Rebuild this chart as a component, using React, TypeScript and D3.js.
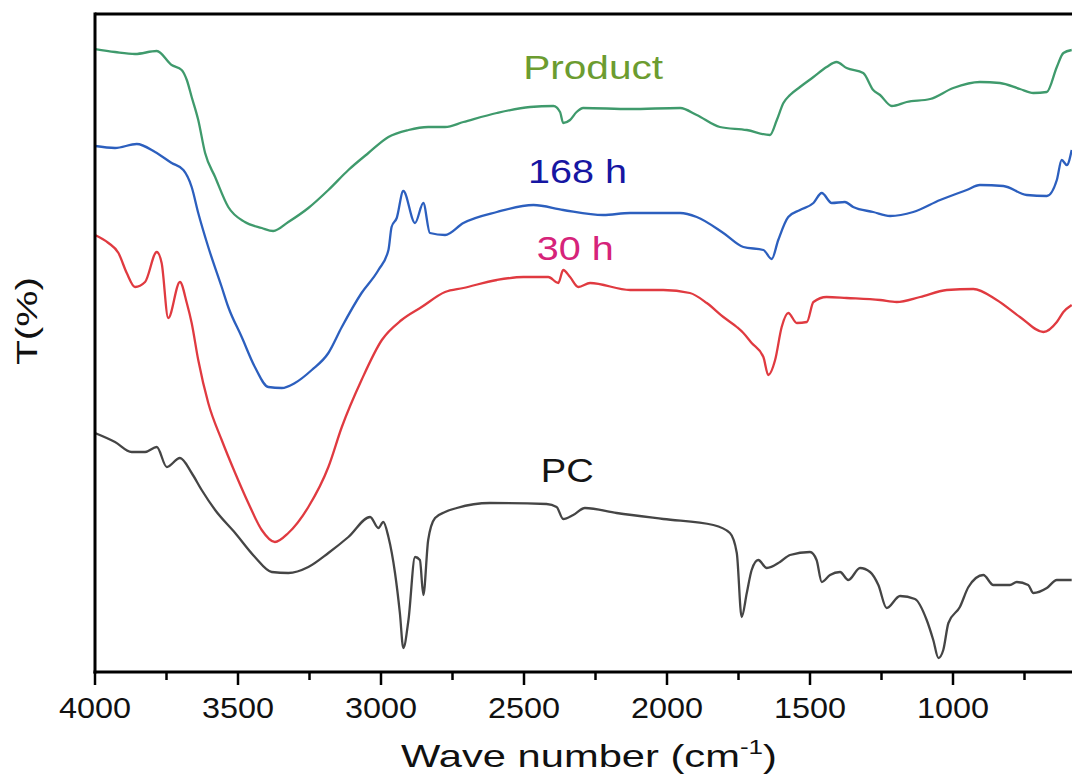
import React from "react";
import * as d3 from "d3";

// [wavenumber (cm-1), transmittance (a.u., offset stacked)]
const productData: [number, number][] = [[4000,623],[3930,620],[3860,618],[3784,621],[3732,607],[3697,602],[3679,592],[3662,575],[3639,552],[3615,519],[3580,495],[3534,465],[3476,450],[3417,444],[3377,441],[3324,450],[3254,464],[3184,482],[3114,502],[3044,519],[2974,535],[2904,542],[2835,545],[2776,545],[2712,550],[2595,559],[2479,565],[2397,566],[2374,560],[2363,549],[2339,552],[2316,560],[2293,564],[2129,563],[1954,564],[1896,557],[1815,545],[1721,542],[1640,537],[1616,552],[1593,569],[1570,577],[1535,585],[1488,595],[1442,605],[1407,610],[1372,604],[1314,599],[1279,582],[1255,577],[1214,566],[1162,570],[1080,573],[999,584],[906,590],[836,589],[766,583],[719,579],[672,580],[637,605],[614,619],[585,622]];

const h168Data: [number, number][] = [[4000,526],[3930,524],[3854,528],[3790,520],[3732,509],[3691,502],[3662,485],[3639,459],[3604,425],[3557,385],[3534,365],[3487,335],[3441,305],[3394,285],[3347,284],[3301,289],[3242,302],[3184,319],[3137,345],[3068,379],[3009,402],[2974,422],[2963,445],[2945,454],[2922,481],[2881,449],[2852,469],[2829,439],[2776,437],[2712,449],[2595,460],[2467,467],[2363,462],[2223,457],[2129,459],[1954,459],[1896,455],[1803,439],[1733,425],[1663,422],[1634,413],[1611,432],[1576,455],[1535,462],[1488,469],[1459,479],[1424,469],[1378,470],[1349,465],[1279,460],[1220,456],[1139,460],[1045,472],[952,482],[906,487],[824,486],[742,477],[672,476],[637,492],[620,512],[602,507],[585,522]];

const h30Data: [number, number][] = [[4000,437],[3953,429],[3918,419],[3889,399],[3860,385],[3825,390],[3784,420],[3767,409],[3744,354],[3703,390],[3679,369],[3662,349],[3639,312],[3604,269],[3557,232],[3510,199],[3464,169],[3417,142],[3371,130],[3324,139],[3254,165],[3184,205],[3137,245],[3068,292],[2997,332],[2928,352],[2858,365],[2776,380],[2712,384],[2595,392],[2502,395],[2415,395],[2380,389],[2363,402],[2339,395],[2310,385],[2269,389],[2129,382],[2013,382],[1920,379],[1861,369],[1803,355],[1756,345],[1733,339],[1704,329],[1663,315],[1646,297],[1622,312],[1599,345],[1576,359],[1546,349],[1511,350],[1488,370],[1442,375],[1372,374],[1255,372],[1197,370],[1115,375],[1022,382],[929,383],[847,372],[766,355],[684,340],[637,350],[614,360],[585,367]];

const pcData: [number, number][] = [[4000,239],[3930,230],[3872,220],[3825,220],[3784,225],[3749,205],[3703,214],[3662,199],[3627,182],[3580,162],[3510,139],[3441,115],[3382,100],[3324,99],[3254,105],[3184,119],[3114,135],[3038,155],[3009,144],[2992,150],[2974,135],[2951,99],[2934,59],[2922,24],[2904,52],[2881,115],[2864,112],[2852,77],[2835,132],[2811,154],[2776,160],[2735,164],[2619,169],[2421,168],[2386,165],[2363,153],[2328,157],[2287,164],[2176,159],[2013,153],[1838,147],[1780,139],[1756,119],[1739,55],[1721,79],[1704,102],[1681,112],[1651,104],[1605,110],[1570,117],[1500,120],[1477,112],[1459,90],[1430,97],[1395,100],[1366,92],[1325,104],[1290,100],[1261,87],[1232,64],[1185,76],[1133,73],[1092,52],[1069,32],[1051,14],[1034,22],[1016,49],[976,65],[946,85],[894,97],[859,87],[801,87],[777,90],[737,87],[719,79],[672,84],[637,92],[585,92]];

const majorTicks = [4000, 3500, 3000, 2500, 2000, 1500, 1000, 500];
const minorTicks = [3750, 3250, 2750, 2250, 1750, 1250, 750];
const tickLabels = ["4000", "3500", "3000", "2500", "2000", "1500", "1000"];

const seriesNames = ["Product", "168 h", "30 h", "PC"];
const lineColors = ["#3f9a6c", "#2c5fbe", "#e03a40", "#454545"];
const labelColors = ["#6c9c30", "#1616a2", "#d6237a", "#141414"];
// label anchor (left, baseline) in data space [wavenumber, T]
const labelPos: [number, number][] = [[2503, 593], [2486, 489], [2455, 412], [2441, 190]];
const labelWidths = [140, 99, 77, 53];

const W = 1072;
const H = 776;
const left = 95;
const top = 14;
const bottom = 672;
const FONT = "'Liberation Sans', Arial, Helvetica, sans-serif";

export default function App() {
  const x = d3.scaleLinear().domain([4000, 400]).range([left, left + 3600 * 0.286]);
  const y = d3.scaleLinear().domain([0, 658]).range([bottom, top]);
  const line = d3
    .line<[number, number]>()
    .x((d) => x(d[0]))
    .y((d) => y(d[1]))
    .curve(d3.curveMonotoneX);
  const all = [productData, h168Data, h30Data, pcData];

  return (
    <svg
      width={W}
      height={H}
      style={{ position: "absolute", left: 0, top: 0, background: "#fff" }}
      fontFamily={FONT}
    >
      <defs>
        <clipPath id="plot">
          <rect x={left} y={top} width={W - left} height={bottom - top} />
        </clipPath>
      </defs>
      <g clipPath="url(#plot)">
        {all.map((d, i) => (
          <path key={i} d={line(d) || ""} fill="none" stroke={lineColors[i]} strokeWidth={2.3} strokeLinejoin="round" />
        ))}
      </g>
      {/* frame */}
      <line x1={left} x2={W} y1={top} y2={top} stroke="#000" strokeWidth={3} />
      <line x1={left} x2={left} y1={top - 1.5} y2={bottom + 1.5} stroke="#000" strokeWidth={3} />
      <line x1={left - 1.5} x2={W} y1={bottom} y2={bottom} stroke="#000" strokeWidth={3} />
      {majorTicks.map((t) => (
        <line key={"M" + t} x1={x(t)} x2={x(t)} y1={bottom} y2={bottom + 13} stroke="#000" strokeWidth={2.5} />
      ))}
      {minorTicks.map((t) => (
        <line key={"m" + t} x1={x(t)} x2={x(t)} y1={bottom} y2={bottom + 8} stroke="#000" strokeWidth={2.5} />
      ))}
      {tickLabels.map((s) => (
        <text
          key={s}
          x={x(+s) - 36}
          y={718}
          fontSize={29}
          fill="#111"
          textLength={72}
          lengthAdjust="spacingAndGlyphs"
        >
          {s}
        </text>
      ))}
      <text x={401} y={767} fontSize={32} fill="#111" textLength={376} lengthAdjust="spacingAndGlyphs">
        Wave number (cm<tspan fontSize={20} dy={-13}>-1</tspan><tspan dy={13}>)</tspan>
      </text>
      <text
        transform="translate(37,365) rotate(-90)"
        x={0}
        y={0}
        fontSize={30}
        fill="#111"
        textLength={88}
        lengthAdjust="spacingAndGlyphs"
      >
        T(%)
      </text>
      {seriesNames.map((s, i) => (
        <text
          key={s}
          x={x(labelPos[i][0])}
          y={y(labelPos[i][1])}
          fontSize={33}
          fill={labelColors[i]}
          textLength={labelWidths[i]}
          lengthAdjust="spacingAndGlyphs"
        >
          {s}
        </text>
      ))}
    </svg>
  );
}
